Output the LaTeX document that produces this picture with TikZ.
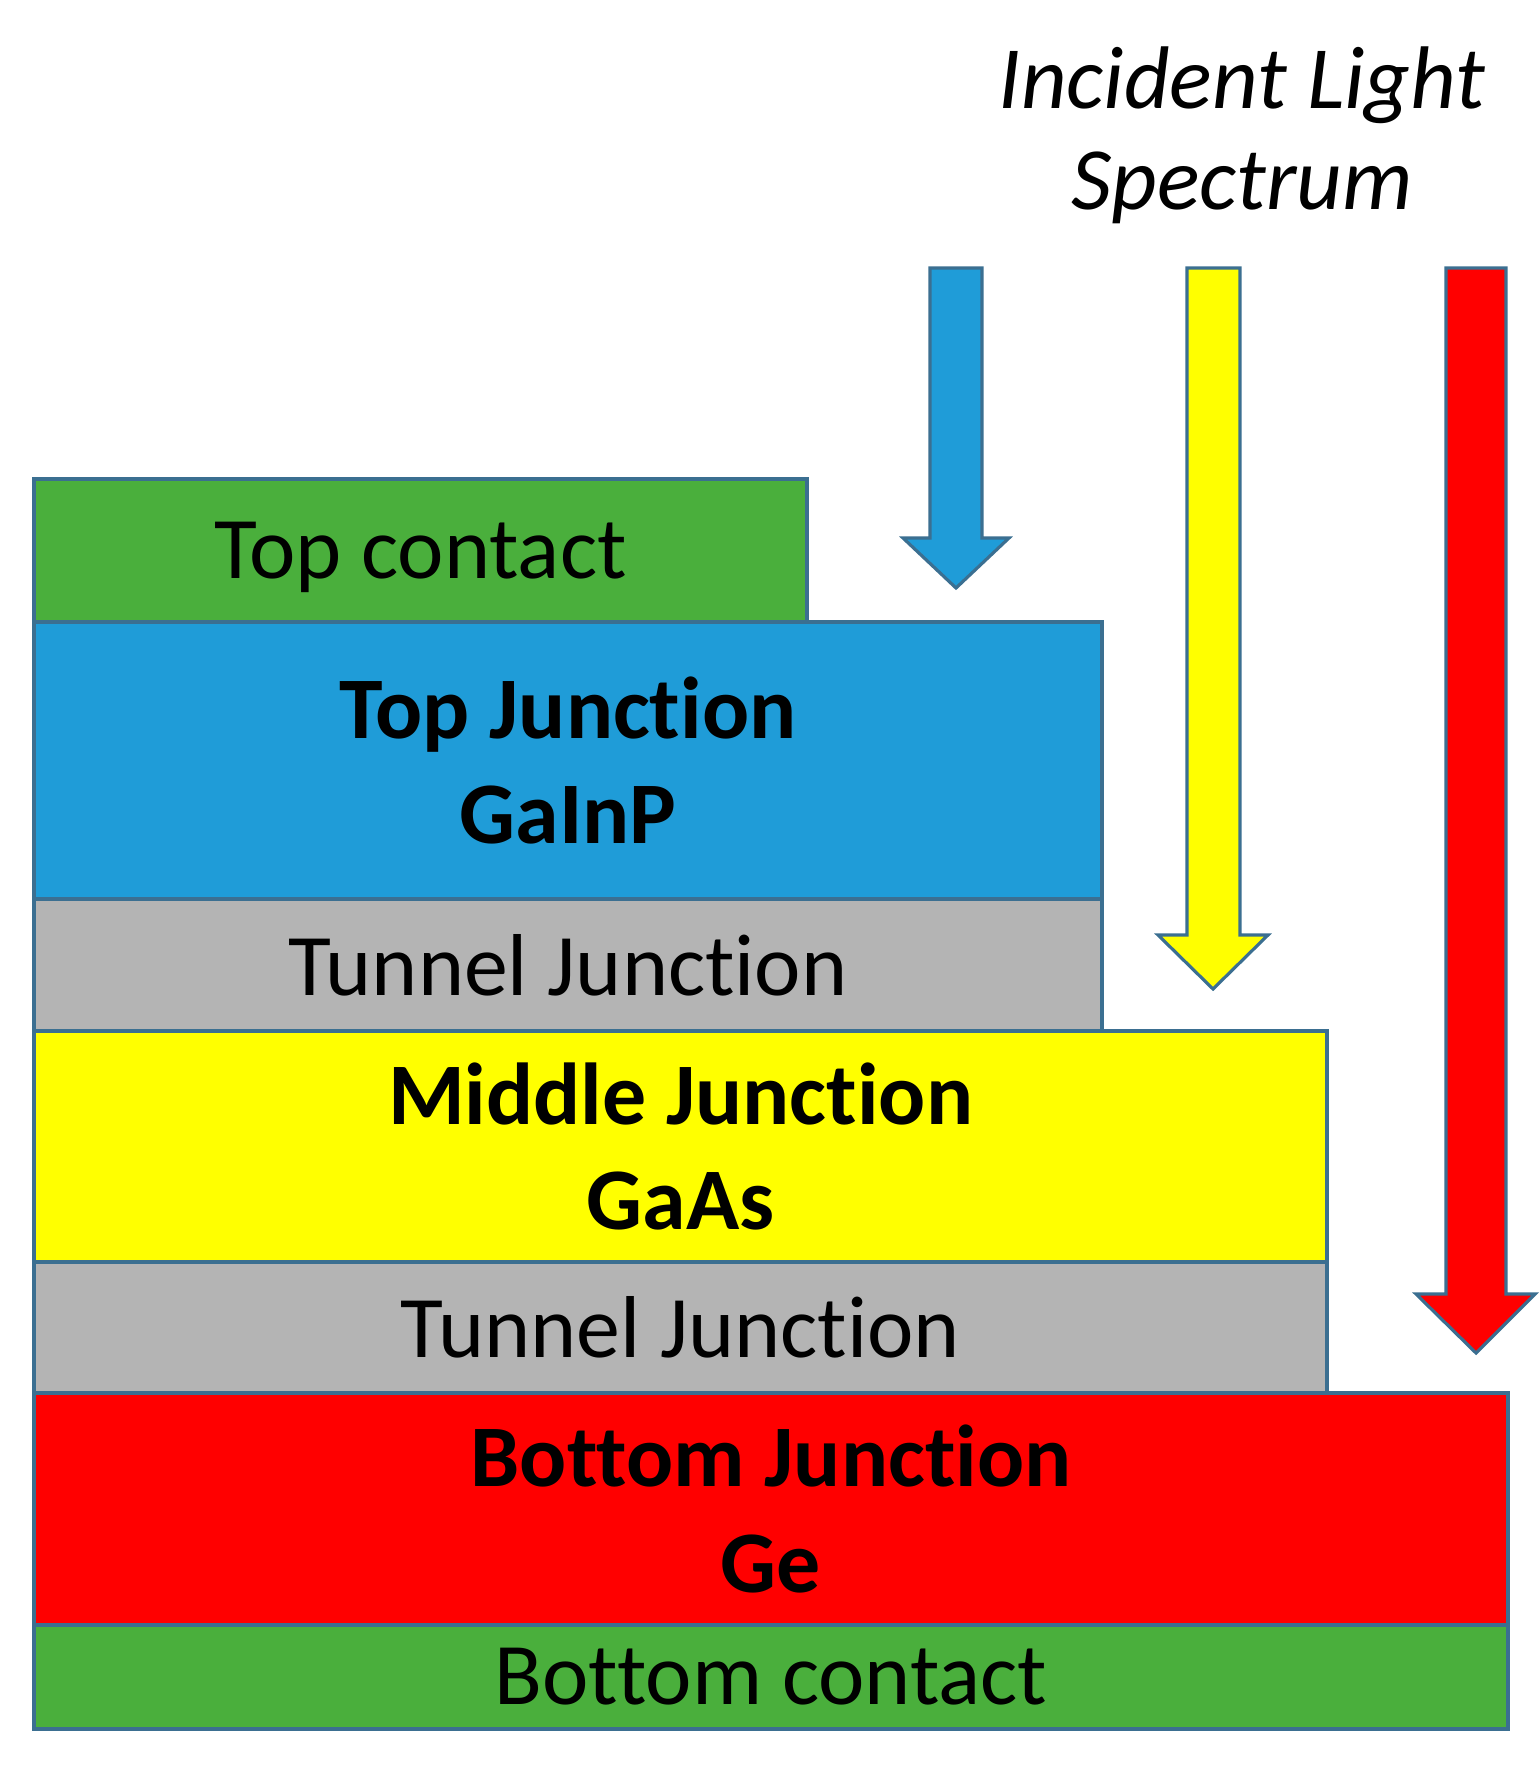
\documentclass[tikz,border=0pt]{standalone}
\usepackage{fontspec}
\setmainfont{Carlito}[Ligatures=NoCommon]
\usepackage{tikz}
\usetikzlibrary{arrows}

\definecolor{contactgreen}{HTML}{4AAF3C}
\definecolor{topblue}{HTML}{1F9CD8}
\definecolor{tunnelgray}{HTML}{B4B4B4}
\definecolor{midyellow}{HTML}{FFFF00}
\definecolor{botred}{HTML}{FF0000}
\definecolor{edgeblue}{HTML}{3B6F91}

\begin{document}
\begin{tikzpicture}[thick,
  layer/.style={rectangle,draw=edgeblue,line width=0.9pt,inner sep=0pt,outer sep=0pt,
    anchor=north west,align=center,font=\fontsize{25}{30}\selectfont},
  junction/.style={layer,font=\fontsize{25}{30}\selectfont\bfseries},
  light/.style={draw=edgeblue,line width=0.9pt,line join=miter}]

  \useasboundingbox (0,0) rectangle (15.39,-17.67);

  \node[layer,fill=contactgreen,minimum width=7.73cm,minimum height=1.43cm,text depth=0pt] (1) at (0.34,-4.79) {Top contact};
  \node[junction,fill=topblue,minimum width=10.68cm,minimum height=2.77cm] (2) at (1.south west) {Top Junction\\GaInP};
  \node[layer,fill=tunnelgray,minimum width=10.68cm,minimum height=1.32cm] (3) at (2.south west) {Tunnel Junction};
  \node[junction,fill=midyellow,minimum width=12.93cm,minimum height=2.31cm] (4) at (3.south west) {Middle Junction\\GaAs};
  \node[layer,fill=tunnelgray,minimum width=12.93cm,minimum height=1.31cm] (5) at (4.south west) {Tunnel Junction};
  \node[junction,fill=botred,minimum width=14.74cm,minimum height=2.32cm] (6) at (5.south west) {Bottom Junction\\Ge};
  \node[layer,fill=contactgreen,minimum width=14.74cm,minimum height=1.04cm] (7) at (6.south west) {Bottom contact};

  \node[font=\fontsize{25.3}{28.8}\selectfont\itshape,align=center] (title) at (12.42,-1.35) {Incident Light\\Spectrum};

  % incoming light, one arrow per junction
  \draw[light,fill=topblue] (9.30,-2.68) -- (9.82,-2.68) -- (9.82,-5.38) -- (10.09,-5.38)
    -- (9.56,-5.88) -- (9.03,-5.38) -- (9.30,-5.38) -- cycle;
  \draw[light,fill=midyellow] (11.87,-2.68) -- (12.40,-2.68) -- (12.40,-9.35) -- (12.68,-9.35)
    -- (12.13,-9.89) -- (11.58,-9.35) -- (11.87,-9.35) -- cycle;
  \draw[light,fill=botred] (14.46,-2.68) -- (15.06,-2.68) -- (15.06,-12.94) -- (15.35,-12.94)
    -- (14.76,-13.53) -- (14.16,-12.94) -- (14.46,-12.94) -- cycle;
\end{tikzpicture}
\end{document}
